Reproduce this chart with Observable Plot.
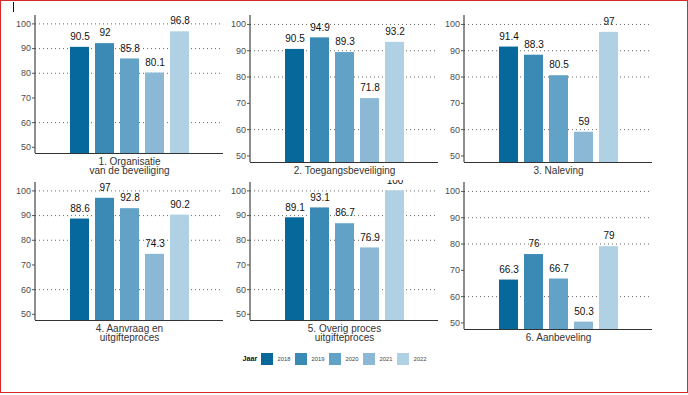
<!DOCTYPE html>
<html><head><meta charset="utf-8">
<script src="https://cdn.jsdelivr.net/npm/d3@7"></script>
<script src="https://cdn.jsdelivr.net/npm/@observablehq/plot@0.6"></script>
<style>
body{margin:0;background:#fff;font-family:"Liberation Sans",Arial,sans-serif;}
#root{position:relative;width:688px;height:395px;overflow:hidden;background:#fff;}
.border{position:absolute;left:0;top:0;width:688px;height:393px;box-sizing:border-box;border:1.5px solid #d42a2a;pointer-events:none;}
.mark{position:absolute;left:12.5px;top:2px;width:1.4px;height:10px;background:#111;}
.panel{position:absolute;overflow:hidden;}
.legend{position:absolute;left:242.5px;top:352.5px;display:flex;align-items:center;height:12px;}
.legend .t{font-weight:bold;font-size:7.2px;color:#111;margin-right:3.7px;}
.legend .sw{width:12.5px;height:12px;margin-right:4px;}
.legend .y{font-size:5.8px;color:#444;margin-right:4.6px;}
</style></head><body><div id="root"></div>
<script>
const years = ["2018", "2019", "2020", "2021", "2022"];
const colors = ["#07689c", "#3a8ab5", "#62a2c6", "#8ab8d5", "#b0d1e3"];
const categories = [
  "1. Organisatie\nvan de beveiliging",
  "2. Toegangsbeveiliging",
  "3. Naleving",
  "4. Aanvraag en\nuitgifteproces",
  "5. Overig proces\nuitgifteproces",
  "6. Aanbeveling"
];
const organisatie = [90.5, 92, 85.8, 80.1, 96.8];
const toegang = [90.5, 94.9, 89.3, 71.8, 93.2];
const naleving = [91.4, 88.3, 80.5, 59, 97];
const aanvraag = [88.6, 97, 92.8, 74.3, 90.2];
const overig = [89.1, 93.1, 86.7, 76.9, 100];
const aanbeveling = [66.3, 76, 66.7, 50.3, 79];
const yTicks = [50, 60, 70, 80, 90, 100];
const gridTicks = [60, 80, 90, 100];
const yDomain = [47.5, 103.4];
const legendTitle = "Jaar";

const series = [organisatie, toegang, naleving, aanvraag, overig, aanbeveling];
// layout: [divLeft, divTop, frameHeight, marginTop, marginBottom]
const layout = [
  [2, 2, 138, 13, 30],
  [217, 2, 147, 13, 20],
  [431, 2, 147, 13, 20],
  [2, 180, 138, 2, 30],
  [217, 180, 138, 2, 30],
  [431, 180, 147, 2, 20]
];
const mL = 33, mR = 6, frameW = 188;

function leftLine(index, scales, values, dims) {
  const l = document.createElementNS("http://www.w3.org/2000/svg", "line");
  l.setAttribute("x1", dims.marginLeft);
  l.setAttribute("x2", dims.marginLeft);
  l.setAttribute("y1", dims.marginTop);
  l.setAttribute("y2", dims.height - dims.marginBottom);
  l.setAttribute("stroke", "#333");
  l.setAttribute("stroke-width", "1.1");
  return l;
}

const root = document.getElementById("root");
series.forEach((vals, i) => {
  const data = years.map((y, j) => ({year: y, value: vals[j]}));
  const [left, top, fh, mT, mB] = layout[i];
  const H = mT + fh + mB;
  const W = mL + frameW + mR;
  const plot = Plot.plot({
    width: W, height: H,
    marginLeft: mL, marginRight: mR, marginTop: mT, marginBottom: mB,
    style: {fontFamily: '"Liberation Sans", Arial, sans-serif', fontSize: "9px", color: "#4d4d4d", background: "transparent"},
    x: {domain: years, paddingInner: 0.24, paddingOuter: 1.38, axis: null},
    y: {domain: yDomain},
    color: {domain: years, range: colors},
    marks: [
      Plot.ruleY(gridTicks, {stroke: "#666", strokeDasharray: "1,3", strokeWidth: 1}),
      Plot.barY(data, {x: "year", y1: () => yDomain[0], y2: "value", fill: "year"}),
      Plot.text(data, {x: "year", y: "value", text: d => String(d.value), dy: -10.5, fontSize: 10, fill: "#111"}),
      Plot.ruleY([yDomain[0]], {stroke: "#333", strokeWidth: 1.1}),
      leftLine,
      Plot.axisY({ticks: yTicks, tickSize: 3, tickPadding: 1.5, label: null, fontSize: 9, stroke: "#555", fill: "#4d4d4d"}),
      Plot.text([categories[i]], {frameAnchor: "bottom", text: d => d, lineAnchor: "top", dy: 4.2, lineHeight: 0.97, fontSize: 10, fill: "#333"})
    ]
  });
  const div = document.createElement("div");
  div.className = "panel";
  div.style.left = left + "px";
  div.style.top = top + "px";
  div.style.width = W + "px";
  div.style.height = H + "px";
  div.appendChild(plot);
  root.appendChild(div);
});

const lg = document.createElement("div");
lg.className = "legend";
const t = document.createElement("span");
t.className = "t"; t.textContent = legendTitle;
lg.appendChild(t);
years.forEach((y, j) => {
  const sw = document.createElement("span");
  sw.className = "sw"; sw.style.background = colors[j];
  const tx = document.createElement("span");
  tx.className = "y"; tx.textContent = y;
  lg.appendChild(sw); lg.appendChild(tx);
});
root.appendChild(lg);

const b = document.createElement("div"); b.className = "border"; root.appendChild(b);
const m = document.createElement("div"); m.className = "mark"; root.appendChild(m);
</script></body></html>
